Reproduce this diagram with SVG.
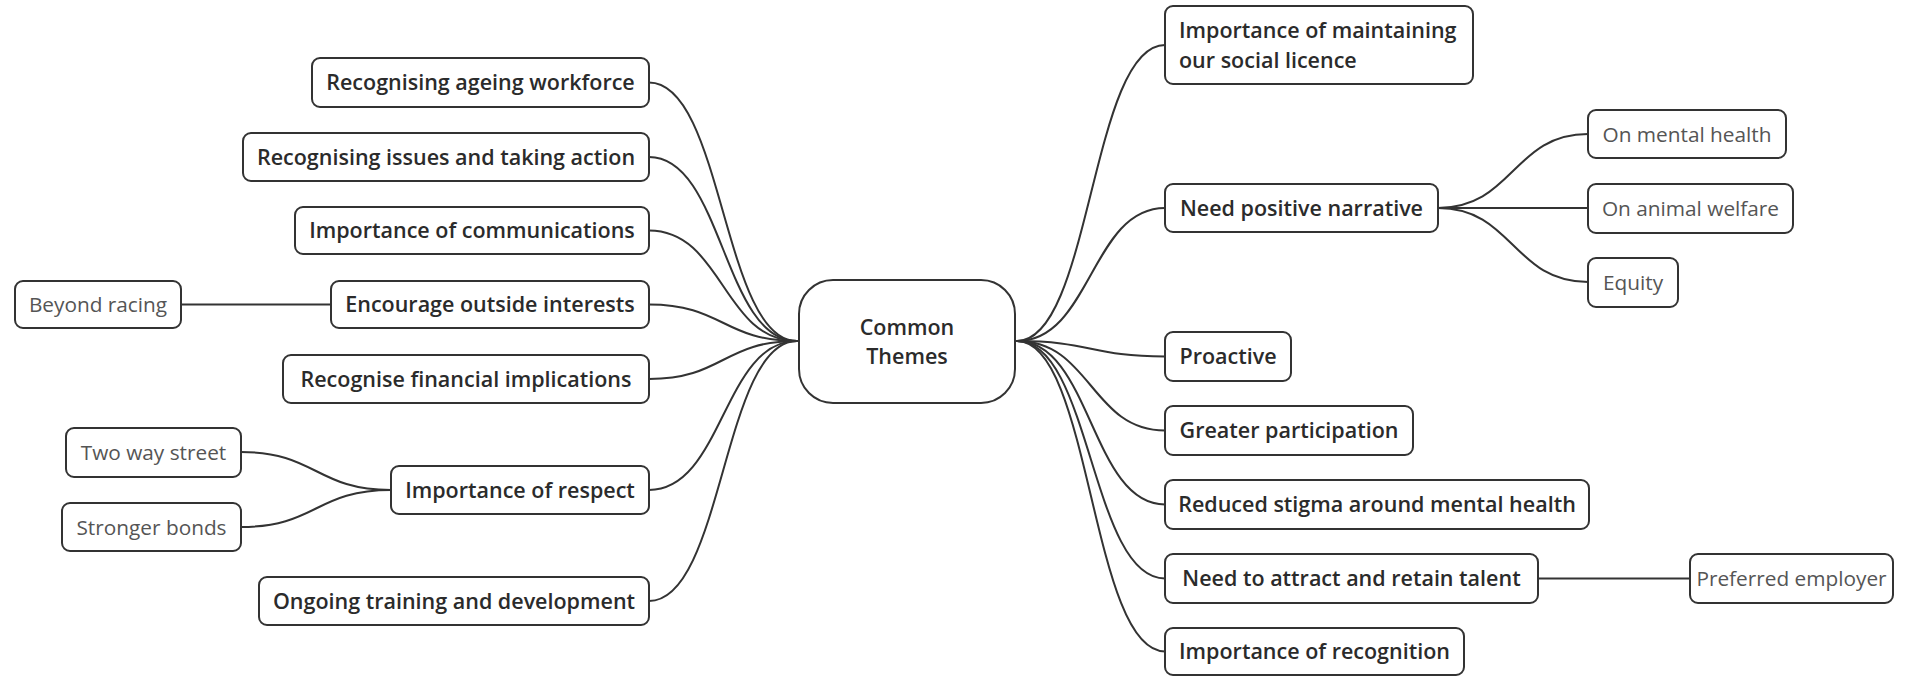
<svg xmlns="http://www.w3.org/2000/svg" width="1905" height="676" viewBox="0 0 1905 676">
<style>
.box{fill:#fff;stroke:#333;stroke-width:2}
.main{font-family:"Open Sans","Noto Sans","Liberation Sans",sans-serif;font-size:21.5px;font-weight:600;fill:#2b2b2b}
.sub{font-family:"Open Sans","Noto Sans","Liberation Sans",sans-serif;font-size:20.8px;font-weight:400;fill:#555}
.c{text-anchor:middle}
.link{fill:none;stroke:#333;stroke-width:2}
</style>
<rect width="1905" height="676" fill="#fff"/>
<g id="connectors">
<path class="link" d="M797 341 C723 341 723 82.5 649 82.5"/>
<path class="link" d="M797 341 C723 341 723 157 649 157"/>
<path class="link" d="M797 341 C723 341 723 230.5 649 230.5"/>
<path class="link" d="M797 341 C723 341 723 304.5 649 304.5"/>
<path class="link" d="M797 341 C723 341 723 379 649 379"/>
<path class="link" d="M797 341 C723 341 723 490 649 490"/>
<path class="link" d="M797 341 C723 341 723 601 649 601"/>
<path class="link" d="M797 341 L799 341"/>
<path class="link" d="M1017 341 C1091 341 1091 45 1165 45"/>
<path class="link" d="M1017 341 C1091 341 1091 208 1165 208"/>
<path class="link" d="M1017 341 C1091 341 1091 356.5 1165 356.5"/>
<path class="link" d="M1017 341 C1091 341 1091 430.5 1165 430.5"/>
<path class="link" d="M1017 341 C1091 341 1091 504.5 1165 504.5"/>
<path class="link" d="M1017 341 C1091 341 1091 578.5 1165 578.5"/>
<path class="link" d="M1017 341 C1091 341 1091 651.5 1165 651.5"/>
<path class="link" d="M1015 341 L1017 341"/>
<path class="link" d="M331 304.5 L181 304.5"/>
<path class="link" d="M391 490 C316 490 316 452 241 452"/>
<path class="link" d="M391 490 C316 490 316 527 241 527"/>
<path class="link" d="M1438 208 C1513 208 1513 134 1588 134"/>
<path class="link" d="M1438 208 L1588 208"/>
<path class="link" d="M1438 208 C1513 208 1513 282 1588 282"/>
<path class="link" d="M1538 578.5 L1690 578.5"/>
</g>
<g id="center">
<rect class="box" x="799" y="280" width="216" height="123" rx="34"/>
<text class="main c" x="907" y="335">Common</text>
<text class="main c" x="907" y="364">Themes</text>
</g>
<g id="n-ageing"><rect class="box" x="312" y="58" width="337" height="49" rx="8"/><text class="main c" x="480.5" y="90">Recognising ageing workforce</text></g>
<g id="n-issues"><rect class="box" x="243" y="133" width="406" height="48" rx="8"/><text class="main c" x="446" y="164.5">Recognising issues and taking action</text></g>
<g id="n-comms"><rect class="box" x="295" y="207" width="354" height="47" rx="8"/><text class="main c" x="472" y="238">Importance of communications</text></g>
<g id="n-outside"><rect class="box" x="331" y="281" width="318" height="47" rx="8"/><text class="main c" x="490" y="312">Encourage outside interests</text></g>
<g id="n-financial"><rect class="box" x="283" y="355" width="366" height="48" rx="8"/><text class="main c" x="466" y="386.5">Recognise financial implications</text></g>
<g id="n-respect"><rect class="box" x="391" y="466" width="258" height="48" rx="8"/><text class="main c" x="520" y="497.5">Importance of respect</text></g>
<g id="n-training"><rect class="box" x="259" y="577" width="390" height="48" rx="8"/><text class="main c" x="454" y="608.5">Ongoing training and development</text></g>
<g id="n-beyond"><rect class="box" x="15" y="281" width="166" height="47" rx="8"/><text class="sub c" x="98" y="312">Beyond racing</text></g>
<g id="n-twoway"><rect class="box" x="66" y="428" width="175" height="49" rx="8"/><text class="sub c" x="153.5" y="459.5">Two way street</text></g>
<g id="n-bonds"><rect class="box" x="62" y="503" width="179" height="48" rx="8"/><text class="sub c" x="151.5" y="534.5">Stronger bonds</text></g>
<g id="n-licence"><rect class="box" x="1165" y="6" width="308" height="78" rx="8"/><text class="main" x="1179" y="38">Importance of maintaining</text><text class="main" x="1179" y="68">our social licence</text></g>
<g id="n-narrative"><rect class="box" x="1165" y="184" width="273" height="48" rx="8"/><text class="main c" x="1301.5" y="215.5">Need positive narrative</text></g>
<g id="n-proactive"><rect class="box" x="1165" y="332" width="126" height="49" rx="8"/><text class="main c" x="1228" y="364">Proactive</text></g>
<g id="n-participation"><rect class="box" x="1165" y="406" width="248" height="49" rx="8"/><text class="main c" x="1289" y="438">Greater participation</text></g>
<g id="n-stigma"><rect class="box" x="1165" y="480" width="424" height="49" rx="8"/><text class="main c" x="1377" y="512">Reduced stigma around mental health</text></g>
<g id="n-talent"><rect class="box" x="1165" y="554" width="373" height="49" rx="8"/><text class="main c" x="1351.5" y="586">Need to attract and retain talent</text></g>
<g id="n-recognition"><rect class="box" x="1165" y="628" width="299" height="47" rx="8"/><text class="main c" x="1314.5" y="659">Importance of recognition</text></g>
<g id="n-mental"><rect class="box" x="1588" y="110" width="198" height="48" rx="8"/><text class="sub c" x="1687" y="141.5">On mental health</text></g>
<g id="n-animal"><rect class="box" x="1588" y="184" width="205" height="49" rx="8"/><text class="sub c" x="1690.5" y="216">On animal welfare</text></g>
<g id="n-equity"><rect class="box" x="1588" y="258" width="90" height="49" rx="8"/><text class="sub c" x="1633" y="290">Equity</text></g>
<g id="n-preferred"><rect class="box" x="1690" y="554" width="203" height="49" rx="8"/><text class="sub c" x="1791.5" y="586">Preferred employer</text></g>
</svg>
